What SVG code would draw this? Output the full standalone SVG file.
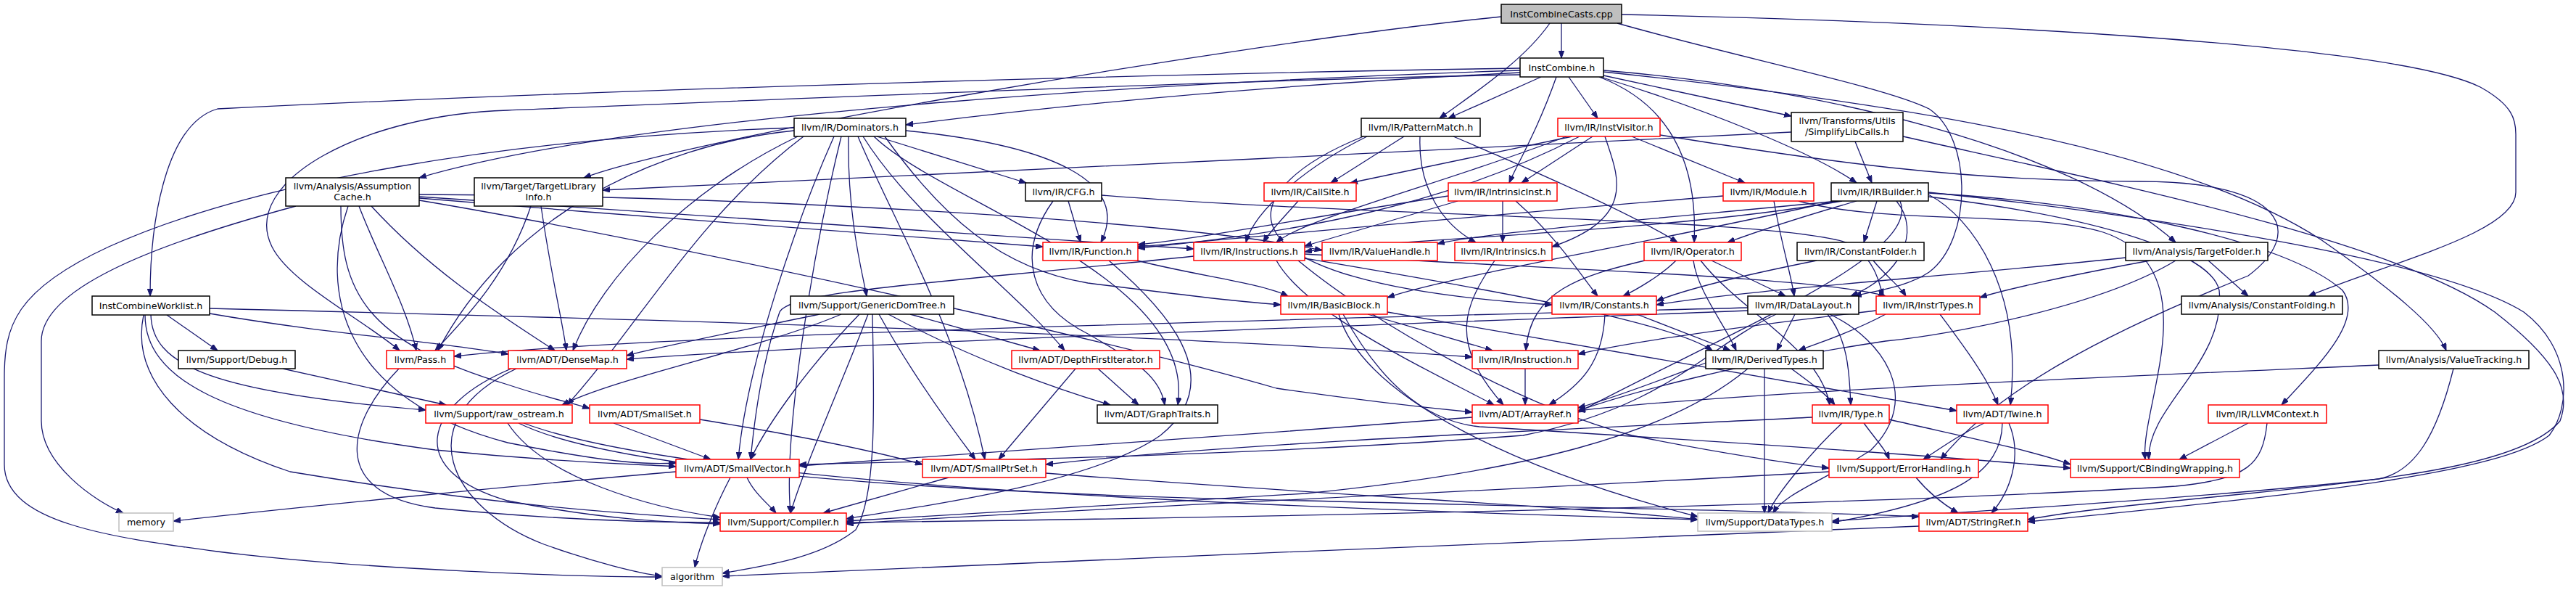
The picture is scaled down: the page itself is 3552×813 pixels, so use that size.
<svg xmlns="http://www.w3.org/2000/svg" width="3552" height="813" viewBox="0 0 3552 813">
<style>
.e{fill:none;stroke:#191970;stroke-width:1.3;marker-end:url(#a)}
rect{fill:#fff;stroke-width:1.5}
.b rect{stroke:#000}
.r rect{stroke:#ff0000}
.g rect{stroke:#bfbfbf}
.root rect{fill:#bfbfbf;stroke:#000}
text{font-family:"DejaVu Sans","Liberation Sans",sans-serif;font-size:12.7px;text-anchor:middle;fill:#000}
</style>
<defs>
<marker id="a" markerUnits="userSpaceOnUse" markerWidth="11" markerHeight="8" refX="10" refY="3.75" orient="auto"><path d="M0,0 L10,3.75 L0,7.5z" fill="#191970" stroke="#191970" stroke-width="1"/></marker>
</defs>
<rect x="0" y="0" width="3552" height="813" style="fill:#fff;stroke:none"/>
<g id="edges">
<path class="e" d="M2153,32 L2153,80"/>
<path class="e" d="M2137,32 C2100,85 2030,130 1985,163"/>
<path class="e" d="M2070,23 C1700,60 950,190 805,245"/>
<path class="e" d="M2236,20 C2700,30 3300,60 3420,120 C3465,145 3469,165 3469,185 L3469,265 C3469,320 3300,360 3183,408"/>
<path class="e" d="M2230,32 C2400,80 2600,120 2660,150 C2720,190 2720,330 2660,375 C2630,395 2590,400 2557,408"/>
<path class="e" d="M2096,94 C1700,100 900,120 300,150 C230,170 207,300 207,408"/>
<path class="e" d="M2096,100 C1800,115 1500,140 1249,172"/>
<path class="e" d="M2096,97 C1700,110 900,150 578,245"/>
<path class="e" d="M2096,103 C1700,110 1000,140 700,152 C500,158 330,250 375,340 C400,390 500,440 551,483"/>
<path class="e" d="M2125,106 L1997,163"/>
<path class="e" d="M2146,106 C2120,180 2090,230 2081,252"/>
<path class="e" d="M2163,106 L2203,163"/>
<path class="e" d="M2205,106 C2320,150 2340,250 2336,334"/>
<path class="e" d="M2207,106 C2350,150 2500,210 2560,252"/>
<path class="e" d="M2211,104 L2470,160"/>
<path class="e" d="M2211,97 C2500,120 2850,200 3000,334"/>
<path class="e" d="M2211,99 C2600,140 3000,200 3200,330 C3300,400 3360,450 3373,483"/>
<path class="e" d="M1209,188 L1415,252"/>
<path class="e" d="M1249,180 C1450,200 1560,250 1518,334"/>
<path class="e" d="M1095,180 C900,200 700,300 604,483"/>
<path class="e" d="M1100,188 C950,260 830,380 790,483"/>
<path class="e" d="M1108,188 C960,300 880,450 782,558"/>
<path class="e" d="M1095,176 C700,190 350,250 150,340 C20,400 6,450 6,520 L6,640 C6,720 150,740 300,760 C500,785 800,795 913,795"/>
<path class="e" d="M1170,188 C1168,300 1190,380 1195,408"/>
<path class="e" d="M1150,188 C1100,300 1030,500 1018,633"/>
<path class="e" d="M1160,188 C1120,350 1080,600 1090,707"/>
<path class="e" d="M1183,188 C1230,300 1320,450 1358,633"/>
<path class="e" d="M1190,188 C1260,300 1400,400 1468,483"/>
<path class="e" d="M1205,188 C1300,280 1650,380 1624,558"/>
<path class="e" d="M1220,188 C1300,300 1380,370 1500,390 C1620,405 1700,415 1766,420"/>
<path class="e" d="M1936,188 L1835,252"/>
<path class="e" d="M1958,188 C1955,260 1990,310 2035,334"/>
<path class="e" d="M2004,188 C2150,250 2260,300 2313,334"/>
<path class="e" d="M1885,188 C1800,230 1730,290 1718,334"/>
<path class="e" d="M1880,188 C1700,260 1650,390 2140,420"/>
<path class="e" d="M2168,188 L1862,252"/>
<path class="e" d="M2196,188 L2098,252"/>
<path class="e" d="M2178,188 C2000,280 1800,320 1569,342"/>
<path class="e" d="M2160,188 C2000,250 1800,300 1760,334"/>
<path class="e" d="M2213,188 C2230,240 2260,300 2140,340"/>
<path class="e" d="M2250,188 L2406,252"/>
<path class="e" d="M2289,186 C2500,220 2700,250 2950,250 C3150,250 3180,320 3100,380 C2900,460 2750,540 2676,633"/>
<path class="e" d="M2470,182 C2000,210 1200,240 831,262"/>
<path class="e" d="M2558,195 L2581,252"/>
<path class="e" d="M2624,188 C2900,250 3300,330 3440,430 C3530,500 3545,540 3530,580 C3480,640 3300,660 3100,680 C2950,695 2850,705 2796,716"/>
<path class="e" d="M2659,265 C2900,290 3350,350 3480,430 C3546,480 3546,560 3515,600 C3450,650 3200,680 2796,719"/>
<path class="e" d="M2540,277 C2300,320 1900,330 1799,347"/>
<path class="e" d="M2535,277 C2300,300 2050,320 1982,336"/>
<path class="e" d="M2530,277 C2300,330 2000,380 1913,410"/>
<path class="e" d="M2588,277 L2570,334"/>
<path class="e" d="M2560,277 C2480,300 2420,320 2382,334"/>
<path class="e" d="M2615,277 C2650,320 2620,380 2552,408"/>
<path class="e" d="M2659,268 C2720,300 2790,400 2772,558"/>
<path class="e" d="M2659,266 C2900,280 3150,330 3230,400 C3260,440 3200,500 3146,558"/>
<path class="e" d="M2659,271 C2900,300 3050,350 3060,400 C3070,500 2960,560 2963,633"/>
<path class="e" d="M2620,277 C2650,350 2400,450 2176,568"/>
<path class="e" d="M2376,270 C2000,300 1700,330 1569,340"/>
<path class="e" d="M2446,277 C2455,330 2470,380 2474,408"/>
<path class="e" d="M2480,277 C2600,310 2800,290 2900,320 C3050,370 2950,560 2958,633"/>
<path class="e" d="M1997,270 C1800,300 1650,330 1569,337"/>
<path class="e" d="M2010,277 C1900,310 1830,330 1799,339"/>
<path class="e" d="M2072,277 L2072,334"/>
<path class="e" d="M2090,277 C2150,330 2180,380 2203,408"/>
<path class="e" d="M1790,277 C1770,300 1750,320 1742,334"/>
<path class="e" d="M1473,277 L1490,334"/>
<path class="e" d="M1452,277 C1400,350 1420,420 1500,460 C1570,500 1600,520 1606,558"/>
<path class="e" d="M1519,269 C1900,300 2500,300 2560,340 C2590,370 2590,390 2597,408"/>
<path class="e" d="M1568,359 C1650,380 1740,390 1776,408"/>
<path class="e" d="M1529,359 C1600,420 1700,520 1600,600 C1500,670 1250,700 1167,715"/>
<path class="e" d="M1646,353 C1300,390 1090,400 1075,430 C1050,500 1040,580 1035,633"/>
<path class="e" d="M1760,359 C1800,430 1950,500 2060,558"/>
<path class="e" d="M1799,356 C2000,390 2300,440 2361,483"/>
<path class="e" d="M1799,350 C2100,370 2500,380 2600,408"/>
<path class="e" d="M1790,359 C1900,450 2100,560 2250,600 C2400,630 2480,640 2522,645"/>
<path class="e" d="M2061,359 C2020,420 1995,470 2073,558"/>
<path class="e" d="M2311,359 C2290,380 2255,400 2238,408"/>
<path class="e" d="M2360,359 L2462,408"/>
<path class="e" d="M2268,359 C2180,380 2110,400 2104,483"/>
<path class="e" d="M2335,359 C2340,400 2380,450 2394,483"/>
<path class="e" d="M2345,359 C2400,430 2510,480 2523,558"/>
<path class="e" d="M2505,359 C2400,380 2320,400 2284,415"/>
<path class="e" d="M2583,359 C2600,380 2620,395 2628,408"/>
<path class="e" d="M2931,355 C2700,380 2400,400 2284,420"/>
<path class="e" d="M2965,359 C2850,380 2760,400 2730,410"/>
<path class="e" d="M3000,359 C2900,420 2700,460 2600,470 C2400,500 2250,540 2176,566"/>
<path class="e" d="M3045,359 L3100,408"/>
<path class="e" d="M1130,433 C1000,460 900,480 864,490"/>
<path class="e" d="M1160,433 C1050,480 850,520 775,558"/>
<path class="e" d="M1185,433 C1120,500 1060,580 1035,633"/>
<path class="e" d="M1197,433 C1160,530 1110,640 1090,707"/>
<path class="e" d="M1203,433 C1205,550 1210,680 1180,730 C1130,770 1050,780 996,790"/>
<path class="e" d="M1212,433 C1260,520 1320,600 1345,633"/>
<path class="e" d="M1225,433 C1350,500 1470,540 1531,558"/>
<path class="e" d="M1255,433 L1434,483"/>
<path class="e" d="M1886,433 L2058,483"/>
<path class="e" d="M1913,430 C2200,480 2500,530 2698,566"/>
<path class="e" d="M1846,433 C1880,550 2100,650 2341,712"/>
<path class="e" d="M1852,433 C1900,520 1960,580 2040,588 C2400,610 2700,630 2855,645"/>
<path class="e" d="M2213,433 C2210,500 2180,530 2136,558"/>
<path class="e" d="M2257,433 L2386,483"/>
<path class="e" d="M2475,433 L2450,483"/>
<path class="e" d="M2520,433 C2550,470 2550,520 2552,558"/>
<path class="e" d="M2410,428 C2000,445 1200,470 864,495"/>
<path class="e" d="M2449,433 C2350,480 2300,560 2100,600 C1700,630 1300,635 1102,640"/>
<path class="e" d="M2523,433 C2600,470 2650,550 2580,620 C2520,660 2460,680 2445,707"/>
<path class="e" d="M2410,424 C1800,440 900,460 626,491"/>
<path class="e" d="M2600,433 C2550,460 2500,475 2480,483"/>
<path class="e" d="M2587,428 C2400,450 2250,470 2176,488"/>
<path class="e" d="M2675,433 C2710,480 2740,520 2755,558"/>
<path class="e" d="M2103,508 L2103,558"/>
<path class="e" d="M2470,508 C2500,530 2520,545 2530,558"/>
<path class="e" d="M2433,508 L2433,707"/>
<path class="e" d="M2352,500 C2300,520 2220,550 2176,562"/>
<path class="e" d="M2410,508 C2300,600 2100,650 1800,680 C1500,700 1300,710 1167,718"/>
<path class="e" d="M2540,583 C2500,620 2450,680 2438,707"/>
<path class="e" d="M2570,583 C2590,610 2600,620 2605,633"/>
<path class="e" d="M2499,575 C2200,590 1700,610 1442,640"/>
<path class="e" d="M2605,578 C2700,600 2800,620 2855,640"/>
<path class="e" d="M3280,503 C2900,520 2400,540 2176,566"/>
<path class="e" d="M3383,508 C3360,600 3330,650 3280,660 C3000,690 2700,705 2526,718"/>
<path class="e" d="M2736,583 C2700,600 2680,615 2652,633"/>
<path class="e" d="M2770,583 C2790,630 2770,680 2746,707"/>
<path class="e" d="M2761,583 C2760,650 2700,690 2526,720"/>
<path class="e" d="M3100,583 L3005,633"/>
<path class="e" d="M3126,583 C3120,640 3100,660 3000,670 C2500,700 1600,715 1167,720"/>
<path class="e" d="M2642,658 C2660,680 2680,695 2700,707"/>
<path class="e" d="M2522,650 C2000,680 1400,705 1167,722"/>
<path class="e" d="M2646,725 C2200,745 1500,770 996,794"/>
<path class="e" d="M550,508 C480,580 450,680 600,700 C800,720 950,720 993,720"/>
<path class="e" d="M705,508 C580,560 560,650 700,690 C850,720 950,720 993,722"/>
<path class="e" d="M712,508 C560,580 620,700 750,750 C820,775 880,790 913,794"/>
<path class="e" d="M700,583 C750,660 900,700 993,713"/>
<path class="e" d="M715,583 C850,650 1300,680 1800,690 C2200,700 2500,705 2646,712"/>
<path class="e" d="M722,583 C900,650 1400,690 2341,716"/>
<path class="e" d="M390,508 L615,558"/>
<path class="e" d="M289,432 C450,460 600,470 701,488"/>
<path class="e" d="M289,425 C900,440 1600,460 2030,492"/>
<path class="e" d="M230,434 L300,483"/>
<path class="e" d="M208,434 C210,500 280,540 587,565"/>
<path class="e" d="M200,434 C200,520 300,580 600,620 C800,640 900,640 932,643"/>
<path class="e" d="M198,434 C180,520 250,600 400,650 C700,700 900,710 993,716"/>
<path class="e" d="M408,284 C200,340 57,400 57,470 L57,580 C57,640 130,690 170,707"/>
<path class="e" d="M495,284 C520,350 560,420 574,483"/>
<path class="e" d="M512,284 C600,380 700,440 765,483"/>
<path class="e" d="M470,284 C470,400 500,470 700,530 C760,550 790,555 813,563"/>
<path class="e" d="M578,276 C900,330 1500,460 1760,535 C1900,555 2000,565 2030,568"/>
<path class="e" d="M578,273 C900,300 1300,330 1438,340"/>
<path class="e" d="M578,271 C1000,300 1500,330 1646,343"/>
<path class="e" d="M578,268 C1000,270 1600,300 1823,345"/>
<path class="e" d="M480,284 C440,400 470,550 700,610 C850,640 900,640 932,638"/>
<path class="e" d="M732,284 C700,380 640,440 600,483"/>
<path class="e" d="M746,284 C760,380 775,440 781,483"/>
<path class="e" d="M846,583 L980,633"/>
<path class="e" d="M965,578 C1100,600 1200,620 1272,640"/>
<path class="e" d="M1030,658 C1040,680 1060,695 1070,707"/>
<path class="e" d="M1007,658 C985,700 965,750 958,782"/>
<path class="e" d="M932,650 C700,670 400,700 239,718"/>
<path class="e" d="M1308,658 L1135,707"/>
<path class="e" d="M1442,652 C1800,680 2200,700 2341,716"/>
<path class="e" d="M1483,508 L1377,633"/>
<path class="e" d="M1514,508 L1570,558"/>
<path class="e" d="M2030,575 C1700,600 1300,630 1102,642"/>
</g>
<g id="n0" class="root"><rect x="2070" y="6" width="166" height="26"/><text x="2153" y="23.5">InstCombineCasts.cpp</text></g>
<g id="n1" class="b"><rect x="2096" y="80" width="115" height="26"/><text x="2153.5" y="97.5">InstCombine.h</text></g>
<g id="n2" class="b"><rect x="1095" y="163" width="154" height="25"/><text x="1172" y="180">llvm/IR/Dominators.h</text></g>
<g id="n3" class="b"><rect x="1877" y="163" width="164" height="25"/><text x="1959" y="180">llvm/IR/PatternMatch.h</text></g>
<g id="n4" class="r"><rect x="2148" y="163" width="141" height="25"/><text x="2218.5" y="180">llvm/IR/InstVisitor.h</text></g>
<g id="n5" class="b"><rect x="2470" y="155" width="154" height="40"/><text x="2547" y="171">llvm/Transforms/Utils</text><text x="2547" y="186">/SimplifyLibCalls.h</text></g>
<g id="n6" class="b"><rect x="127" y="408" width="162" height="26"/><text x="208" y="425.5">InstCombineWorklist.h</text></g>
<g id="n7" class="b"><rect x="394" y="245" width="184" height="39"/><text x="486" y="261">llvm/Analysis/Assumption</text><text x="486" y="276">Cache.h</text></g>
<g id="n8" class="b"><rect x="654" y="245" width="177" height="39"/><text x="742.5" y="261">llvm/Target/TargetLibrary</text><text x="742.5" y="276">Info.h</text></g>
<g id="n9" class="b"><rect x="1414" y="252" width="105" height="25"/><text x="1466.5" y="269">llvm/IR/CFG.h</text></g>
<g id="n10" class="r"><rect x="1743" y="252" width="127" height="25"/><text x="1806.5" y="269">llvm/IR/CallSite.h</text></g>
<g id="n11" class="r"><rect x="1997" y="252" width="150" height="25"/><text x="2072" y="269">llvm/IR/IntrinsicInst.h</text></g>
<g id="n12" class="r"><rect x="2376" y="252" width="125" height="25"/><text x="2438.5" y="269">llvm/IR/Module.h</text></g>
<g id="n13" class="b"><rect x="2525" y="252" width="134" height="25"/><text x="2592" y="269">llvm/IR/IRBuilder.h</text></g>
<g id="n14" class="r"><rect x="1438" y="334" width="131" height="25"/><text x="1503.5" y="351">llvm/IR/Function.h</text></g>
<g id="n15" class="r"><rect x="1646" y="334" width="153" height="25"/><text x="1722.5" y="351">llvm/IR/Instructions.h</text></g>
<g id="n16" class="r"><rect x="1823" y="334" width="159" height="25"/><text x="1902.5" y="351">llvm/IR/ValueHandle.h</text></g>
<g id="n17" class="r"><rect x="2006" y="334" width="134" height="25"/><text x="2073" y="351">llvm/IR/Intrinsics.h</text></g>
<g id="n18" class="r"><rect x="2267" y="334" width="134" height="25"/><text x="2334" y="351">llvm/IR/Operator.h</text></g>
<g id="n19" class="b"><rect x="2478" y="334" width="175" height="25"/><text x="2565.5" y="351">llvm/IR/ConstantFolder.h</text></g>
<g id="n20" class="b"><rect x="2931" y="334" width="196" height="25"/><text x="3029" y="351">llvm/Analysis/TargetFolder.h</text></g>
<g id="n21" class="b"><rect x="1090" y="408" width="225" height="25"/><text x="1202.5" y="425">llvm/Support/GenericDomTree.h</text></g>
<g id="n22" class="r"><rect x="1766" y="408" width="147" height="25"/><text x="1839.5" y="425">llvm/IR/BasicBlock.h</text></g>
<g id="n23" class="r"><rect x="2140" y="408" width="144" height="25"/><text x="2212" y="425">llvm/IR/Constants.h</text></g>
<g id="n24" class="b"><rect x="2410" y="408" width="153" height="25"/><text x="2486.5" y="425">llvm/IR/DataLayout.h</text></g>
<g id="n25" class="r"><rect x="2587" y="408" width="143" height="25"/><text x="2658.5" y="425">llvm/IR/InstrTypes.h</text></g>
<g id="n26" class="b"><rect x="3008" y="408" width="222" height="25"/><text x="3119" y="425">llvm/Analysis/ConstantFolding.h</text></g>
<g id="n27" class="b"><rect x="246" y="483" width="161" height="25"/><text x="326.5" y="500">llvm/Support/Debug.h</text></g>
<g id="n28" class="r"><rect x="533" y="483" width="93" height="25"/><text x="579.5" y="500">llvm/Pass.h</text></g>
<g id="n29" class="r"><rect x="701" y="483" width="163" height="25"/><text x="782.5" y="500">llvm/ADT/DenseMap.h</text></g>
<g id="n30" class="r"><rect x="1395" y="483" width="204" height="25"/><text x="1497" y="500">llvm/ADT/DepthFirstIterator.h</text></g>
<g id="n31" class="r"><rect x="2030" y="483" width="146" height="25"/><text x="2103" y="500">llvm/IR/Instruction.h</text></g>
<g id="n32" class="b"><rect x="2352" y="483" width="162" height="25"/><text x="2433" y="500">llvm/IR/DerivedTypes.h</text></g>
<g id="n33" class="b"><rect x="3280" y="483" width="207" height="25"/><text x="3383.5" y="500">llvm/Analysis/ValueTracking.h</text></g>
<g id="n34" class="r"><rect x="587" y="558" width="202" height="25"/><text x="688" y="575">llvm/Support/raw_ostream.h</text></g>
<g id="n35" class="r"><rect x="813" y="558" width="152" height="25"/><text x="889" y="575">llvm/ADT/SmallSet.h</text></g>
<g id="n36" class="b"><rect x="1513" y="558" width="166" height="25"/><text x="1596" y="575">llvm/ADT/GraphTraits.h</text></g>
<g id="n37" class="r"><rect x="2030" y="558" width="146" height="25"/><text x="2103" y="575">llvm/ADT/ArrayRef.h</text></g>
<g id="n38" class="r"><rect x="2499" y="558" width="106" height="25"/><text x="2552" y="575">llvm/IR/Type.h</text></g>
<g id="n39" class="r"><rect x="2698" y="558" width="126" height="25"/><text x="2761" y="575">llvm/ADT/Twine.h</text></g>
<g id="n40" class="r"><rect x="3045" y="558" width="163" height="25"/><text x="3126.5" y="575">llvm/IR/LLVMContext.h</text></g>
<g id="n41" class="r"><rect x="932" y="633" width="170" height="25"/><text x="1017" y="650">llvm/ADT/SmallVector.h</text></g>
<g id="n42" class="r"><rect x="1272" y="633" width="170" height="25"/><text x="1357" y="650">llvm/ADT/SmallPtrSet.h</text></g>
<g id="n43" class="r"><rect x="2522" y="633" width="206" height="25"/><text x="2625" y="650">llvm/Support/ErrorHandling.h</text></g>
<g id="n44" class="r"><rect x="2855" y="633" width="233" height="25"/><text x="2971.5" y="650">llvm/Support/CBindingWrapping.h</text></g>
<g id="n45" class="g"><rect x="164" y="707" width="75" height="25"/><text x="201.5" y="724">memory</text></g>
<g id="n46" class="r"><rect x="993" y="707" width="174" height="25"/><text x="1080" y="724">llvm/Support/Compiler.h</text></g>
<g id="n47" class="g"><rect x="2341" y="707" width="185" height="25"/><text x="2433.5" y="724">llvm/Support/DataTypes.h</text></g>
<g id="n48" class="r"><rect x="2646" y="707" width="150" height="25"/><text x="2721" y="724">llvm/ADT/StringRef.h</text></g>
<g id="n49" class="g"><rect x="913" y="782" width="83" height="25"/><text x="954.5" y="799">algorithm</text></g>
</svg>
